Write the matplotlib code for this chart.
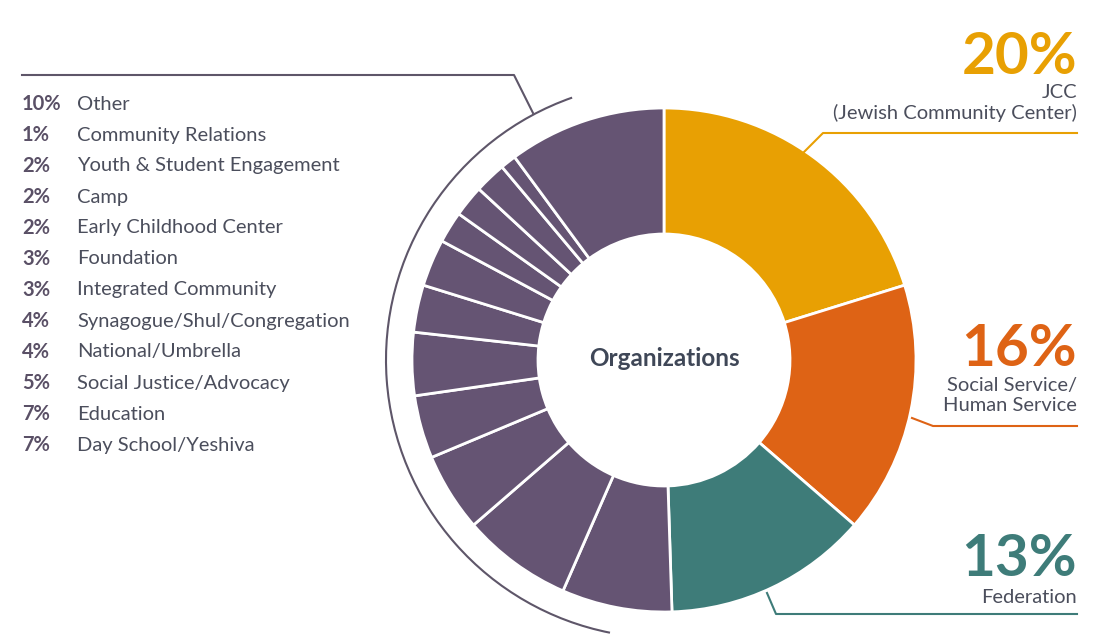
import numpy as np
import matplotlib.pyplot as plt
from matplotlib.patches import Arc

plt.rcParams['font.family'] = ['Lato', 'DejaVu Sans']

# Slices in clockwise order starting at 12 o'clock
slice_names = ["JCC", "Social Service/Human Service", "Federation",
               "Day School/Yeshiva", "Education", "Social Justice/Advocacy",
               "National/Umbrella", "Synagogue/Shul/Congregation",
               "Integrated Community", "Foundation", "Early Childhood Center",
               "Camp", "Youth & Student Engagement", "Community Relations", "Other"]
slice_values = [20, 16, 13, 7, 7, 5, 4, 4, 3, 3, 2, 2, 2, 1, 10]

# Callouts on the right
big_pcts = ["20%", "16%", "13%"]
big_labels = ["JCC\n(Jewish Community Center)", "Social Service/\nHuman Service", "Federation"]

# Legend list on the left (top to bottom)
legend_pcts = ["10%", "1%", "2%", "2%", "2%", "3%", "3%", "4%", "4%", "5%", "7%", "7%"]
legend_names = ["Other", "Community Relations", "Youth & Student Engagement", "Camp",
                "Early Childhood Center", "Foundation", "Integrated Community",
                "Synagogue/Shul/Congregation", "National/Umbrella",
                "Social Justice/Advocacy", "Education", "Day School/Yeshiva"]

gold = "#E8A003"
orange = "#DE6315"
teal = "#3E7C79"
purple = "#655473"
text_col = "#4B4E5C"
line_col = "#5E5669"

colors = [gold, orange, teal] + [purple] * 12

W, H = 1109, 642
fig = plt.figure(figsize=(W / 100, H / 100), dpi=100)
ax = fig.add_axes([0, 0, 1, 1])

cx, cy = 664, H - 360
ax.pie(slice_values, colors=colors, startangle=90, counterclock=False,
       center=(cx, cy), radius=252, frame=True,
       wedgeprops=dict(width=126, edgecolor='white', linewidth=2))
ax.set_xlim(0, W)
ax.set_ylim(0, H)
ax.set_aspect('equal')
ax.axis('off')

ax.text(cx, cy + 2, "Organizations", ha='center', va='center', fontsize=17.5,
        fontweight='bold', color="#3F4757")

# bracket arc around the small slices
ax.add_patch(Arc((cx, cy), 2 * 278, 2 * 278, theta1=109.3, theta2=258.8,
                 color=line_col, lw=1.5))
ax.plot([533, 514, 22], [H - 113, H - 75, H - 75], color=line_col, lw=1.5)

# left list
for i, (p, n) in enumerate(zip(legend_pcts, legend_names)):
    y = H - (104 + i * 31)
    ax.text(22, y, p, ha='left', va='center', fontsize=14.5, fontweight='bold',
            color="#5A5066")
    ax.text(77, y, n, ha='left', va='center', fontsize=14.5, color=text_col)

# right callouts
callout_cols = [gold, orange, teal]
pct_y = [58, 349, 560]
label_top = [84, 377, 589]
leaders = [([803, 823, 1077], [153, 133, 133]),
           ([912, 933, 1077], [418, 426, 426]),
           ([767, 776, 1077], [593, 614, 614])]
for k in range(3):
    ax.text(1077, H - pct_y[k], big_pcts[k], ha='right', va='center', fontsize=42,
            fontweight='bold', color=callout_cols[k])
    ax.text(1077, H - label_top[k], big_labels[k], ha='right', va='top', fontsize=14.5,
            color=text_col, linespacing=1.22, multialignment='right')
    xs, ys = leaders[k]
    ax.plot(xs, [H - v for v in ys], color=callout_cols[k], lw=1.5)

fig.savefig("out.png", dpi=100, facecolor='white')
